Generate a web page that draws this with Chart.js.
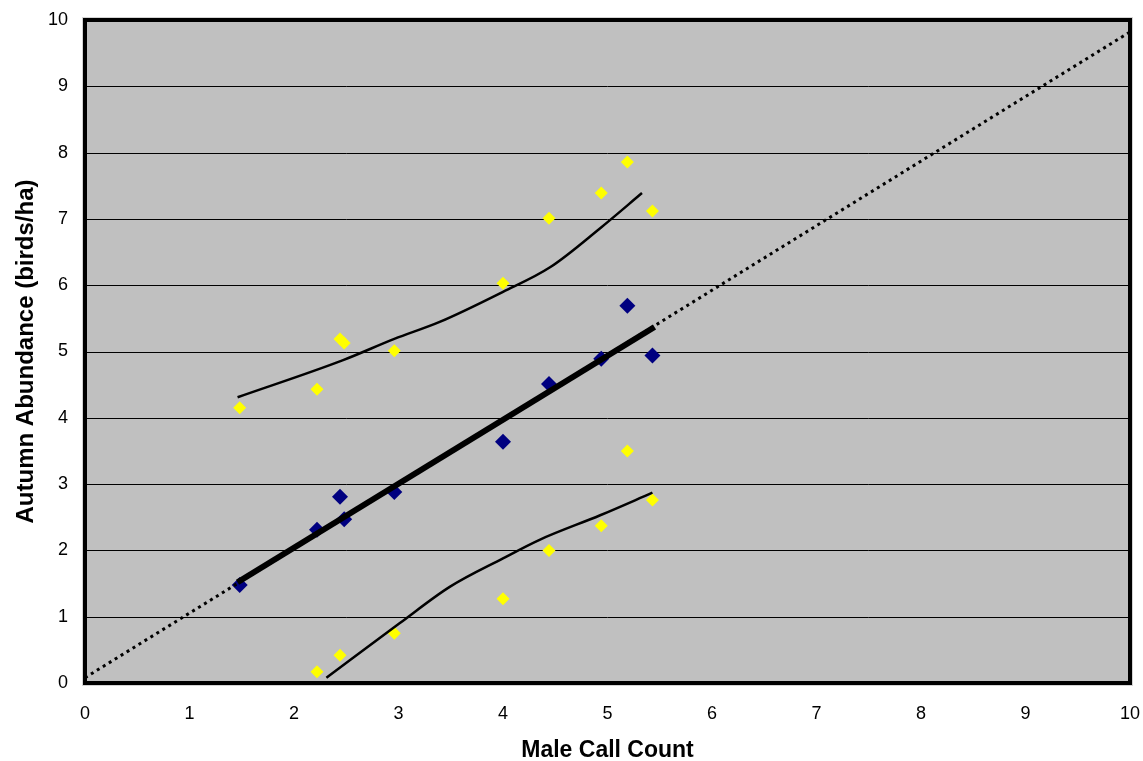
<!DOCTYPE html>
<html>
<head>
<meta charset="utf-8">
<script src="https://cdn.jsdelivr.net/npm/chart.js@4"></script>
<style>
  html, body { margin: 0; padding: 0; background: #ffffff; }
  #wrap { width: 1143px; height: 761px; }
</style>
</head>
<body>
<div id="wrap"><canvas id="chart" width="1143" height="761"></canvas></div>
<script>
// Male call count (x) for each site
const callX = [1.48, 2.22, 2.44, 2.48, 2.96, 4.0, 4.44, 4.94, 5.19, 5.43];
// Observed autumn abundance (blue diamonds)
const abundance = [1.48, 2.31, 2.81, 2.47, 2.88, 3.64, 4.51, 4.89, 5.69, 4.94];
// Upper prediction values (yellow)
const upperY = [4.15, 4.43, 5.19, 5.13, 5.01, 6.03, 7.01, 7.39, 7.86, 7.12];
// Lower prediction values (yellow), some sites fall below zero
const lowerX = [2.22, 2.44, 2.96, 4.0, 4.44, 4.94, 5.19, 5.43];
const lowerY = [0.17, 0.42, 0.75, 1.27, 2.0, 2.37, 3.5, 2.76];

// Fitted line and band curves
const fitX = [1.46, 5.45];
const fitY = [1.52, 5.37];
const refX = [0, 10];
const refY = [0.08, 9.82];
const upBandX = [1.46, 2.47, 2.96, 3.4, 4.0, 4.45, 4.93, 5.33];
const upBandY = [4.31, 4.87, 5.19, 5.45, 5.9, 6.27, 6.86, 7.39];
const loBandX = [2.31, 3.01, 3.49, 4.0, 4.35, 4.93, 5.43];
const loBandY = [0.08, 0.9, 1.45, 1.88, 2.16, 2.53, 2.87];

const axisTicks = [0, 1, 2, 3, 4, 5, 6, 7, 8, 9, 10];

function pts(xs, ys) {
  return xs.map((x, i) => ({ x: x, y: ys[i] }));
}

const plotFrame = {
  id: "plotFrame",
  beforeDatasetsDraw(chart) {
    const a = chart.chartArea;
    const c = chart.ctx;
    c.save();
    c.fillStyle = "#c0c0c0";
    c.fillRect(a.left, a.top, a.right - a.left, a.bottom - a.top);
    // horizontal grid lines
    c.strokeStyle = "#000000";
    c.lineWidth = 1;
    const ys = chart.scales.y;
    for (let v = 1; v < 10; v++) {
      const py = Math.round(ys.getPixelForValue(v)) + 0.5;
      c.beginPath();
      c.moveTo(a.left, py);
      c.lineTo(a.right, py);
      c.stroke();
    }
    c.restore();
  },
  afterDatasetsDraw(chart) {
    const a = chart.chartArea;
    const c = chart.ctx;
    c.save();
    c.strokeStyle = "#d4d4d4";
    c.lineWidth = 1;
    c.strokeRect(a.left - 2.5, a.top - 2.5, a.right - a.left + 5, a.bottom - a.top + 5);
    c.strokeStyle = "#000000";
    c.lineWidth = 4;
    c.strokeRect(a.left, a.top, a.right - a.left, a.bottom - a.top);
    c.restore();
  },
};

const lineStyle = {
  type: "line",
  pointRadius: 0,
  borderColor: "#000000",
  fill: false,
  showLine: true,
};

const tickFont = { family: "Liberation Sans, Arial", size: 18 };

new Chart(document.getElementById("chart"), {
  type: "scatter",
  data: {
    datasets: [
      Object.assign({}, lineStyle, {
        data: pts(refX, refY),
        borderWidth: 3,
        borderDash: [3, 4],
      }),
      Object.assign({}, lineStyle, {
        data: pts(upBandX, upBandY),
        borderWidth: 2.5,
        cubicInterpolationMode: "monotone",
      }),
      Object.assign({}, lineStyle, {
        data: pts(loBandX, loBandY),
        borderWidth: 2.5,
        cubicInterpolationMode: "monotone",
      }),
      Object.assign({}, lineStyle, {
        data: pts(fitX, fitY),
        borderWidth: 6,
      }),
      {
        data: pts(callX, upperY),
        pointStyle: "rectRot",
        pointRadius: 6.5,
        backgroundColor: "#ffff00",
        borderColor: "#ffff00",
        borderWidth: 0,
      },
      {
        data: pts(lowerX, lowerY),
        pointStyle: "rectRot",
        pointRadius: 6.5,
        backgroundColor: "#ffff00",
        borderColor: "#ffff00",
        borderWidth: 0,
      },
      {
        data: pts(callX, abundance),
        pointStyle: "rectRot",
        pointRadius: 8,
        backgroundColor: "#000080",
        borderColor: "#000080",
        borderWidth: 0,
      },
    ],
  },
  options: {
    responsive: false,
    animation: false,
    layout: { padding: { top: 20, right: 13, left: 0, bottom: 0 } },
    plugins: {
      legend: { display: false },
      tooltip: { enabled: false },
    },
    scales: {
      x: {
        type: "linear",
        min: 0,
        max: 10,
        afterBuildTicks: (s) => { s.ticks = axisTicks.map((v) => ({ value: v })); },
        afterFit: (s) => {
          s.height = 78;
          s.paddingLeft = 0;
          s.paddingRight = 0;
        },
        grid: { display: false, drawTicks: false },
        border: { display: false },
        ticks: { padding: 20, color: "#000000", font: tickFont },
        title: {
          display: true,
          text: "Male Call Count",
          color: "#000000",
          padding: { top: 4, bottom: -3 },
          font: { family: "Liberation Sans, Arial", size: 23, weight: "bold" },
        },
      },
      y: {
        min: 0,
        max: 10,
        afterBuildTicks: (s) => { s.ticks = axisTicks.map((v) => ({ value: v })); },
        afterFit: (s) => {
          s.width = 85;
          s.paddingTop = 0;
          s.paddingBottom = 0;
        },
        grid: { display: false, drawTicks: false },
        border: { display: false },
        ticks: { padding: 17, color: "#000000", font: tickFont },
        title: {
          display: true,
          text: "Autumn Abundance (birds/ha)",
          color: "#000000",
          padding: { top: 12, bottom: 0 },
          font: { family: "Liberation Sans, Arial", size: 24, weight: "bold" },
        },
      },
    },
  },
  plugins: [plotFrame],
});
</script>
</body>
</html>
